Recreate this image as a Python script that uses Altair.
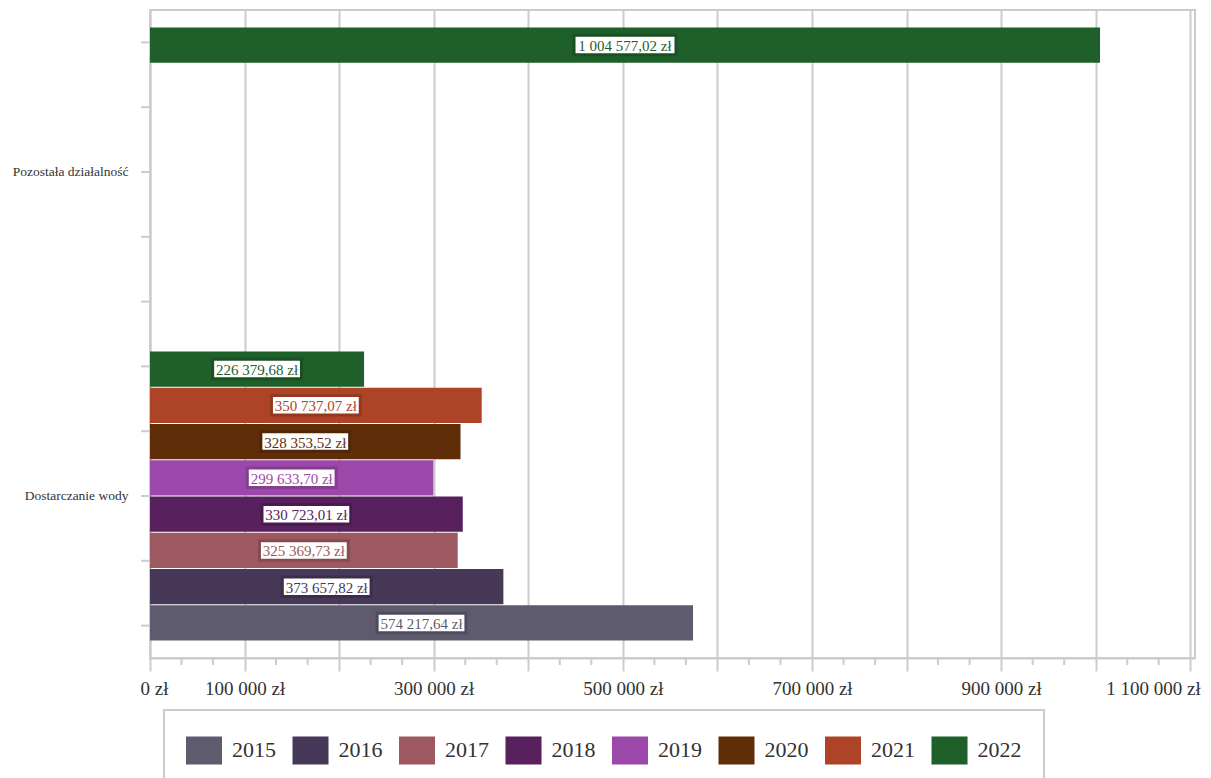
import altair as alt
import pandas as pd

categories = ["Pozostała działalność", "Dostarczanie wody"]
years = ["2015", "2016", "2017", "2018", "2019", "2020", "2021", "2022"]
pozostala = [0, 0, 0, 0, 0, 0, 0, 1004577.02]
dostarczanie = [574217.64, 373657.82, 325369.73, 330723.01, 299633.70, 328353.52, 350737.07, 226379.68]
colors = ["#5e5b6e", "#473858", "#9e5861", "#58215e", "#9c48aa", "#5f2e09", "#ad4327", "#1f5f2a"]
border_colors = ["#4f4c5e", "#3b2e4a", "#874a52", "#4a1b50", "#853d91", "#502607", "#933821", "#1a5023"]
x_ticks = [0, 100000, 200000, 300000, 400000, 500000, 600000, 700000, 800000, 900000, 1000000, 1100000]
x_minor = [v + d for v in x_ticks[:-1] for d in (100000 / 3, 200000 / 3)]
y_tick_pos = [0.5, 1.5, 2.5, 3.5, 4.5, 5.5, 6.5, 7.5, 8.5, 9.5]


def fmt(v):
    return f"{v:,.2f}".replace(",", " ").replace(".", ",") + " zł"


rows = []
for cat, vals in zip(categories, [pozostala, dostarczanie]):
    for yr, v in zip(years, vals):
        rows.append({"kategoria": cat, "rok": yr, "wartosc": v, "etykieta": fmt(v)})
df = pd.DataFrame(rows)

FONT = "Liberation Serif"
x_scale = alt.Scale(domain=[0, 1105000], nice=False, zero=True)
x_axis = alt.Axis(
    title=None,
    values=x_ticks,
    tickSize=13,
    labelFontSize=19,
    labelPadding=8,
    labelFlush=8,
    labelFlushOffset=10,
    labelOverlap=False,
    grid=True,
    labelExpr="(datum.value == 0 || round(datum.value / 100000) % 2 == 1) ? replace(replace(format(datum.value, ',d'), ',', ' '), ',', ' ') + ' zł' : ''",
)
y_sort = categories
y_scale = alt.Scale(paddingInner=0.108, paddingOuter=0.054)
y_axis = alt.Axis(title=None, ticks=False, tickSize=0, labelPadding=22, labelFontSize=13.5, grid=False)
yoff_enc = alt.YOffset("rok:N", sort="descending", scale=alt.Scale(paddingInner=0.03, paddingOuter=0))

base = alt.Chart(df)

bars = base.mark_bar(opacity=1).encode(
    x=alt.X("wartosc:Q", scale=x_scale, axis=x_axis),
    y=alt.Y("kategoria:N", sort=y_sort, scale=y_scale, axis=y_axis),
    yOffset=yoff_enc,
    color=alt.Color(
        "rok:N",
        scale=alt.Scale(domain=years, range=colors),
        legend=alt.Legend(
            title=None,
            orient="none",
            legendX=14,
            legendY=700,
            direction="horizontal",
            symbolType="M-1,-0.78L1,-0.78L1,0.78L-1,0.78Z",
            symbolSize=1296,
            symbolStrokeWidth=0,
            labelFontSize=22,
            labelFont=FONT,
            labelColor="#333333",
            labelOffset=10,
            columnPadding=16.5,
            padding=22,
            strokeColor="#cccccc",
        ),
    ),
)

labelled = base.transform_filter("datum.wartosc > 0").transform_calculate(
    mid="datum.wartosc / 2",
    w="length(datum.etykieta) * 6.6 + 3",
)
labelled = labelled.transform_calculate(
    r="19.5 / datum.w",
    sz="datum.w * datum.w",
).transform_calculate(
    shp="'M-1,-' + datum.r + 'L1,-' + datum.r + 'L1,' + datum.r + 'L-1,' + datum.r + 'Z'"
)

boxes = labelled.mark_point(filled=True, fill="white", fillOpacity=1, opacity=1, strokeWidth=3).encode(
    x=alt.X("mid:Q", scale=x_scale, axis=x_axis),
    y=alt.Y("kategoria:N", sort=y_sort, scale=y_scale, axis=None),
    yOffset=yoff_enc,
    stroke=alt.Stroke("rok:N", scale=alt.Scale(domain=years, range=border_colors), legend=None),
    shape=alt.Shape("shp:N", scale=None),
    size=alt.Size("sz:Q", scale=None),
)

texts = labelled.mark_text(font=FONT, fontSize=15, align="center", baseline="middle", dy=1).encode(
    x=alt.X("mid:Q", scale=x_scale, axis=x_axis),
    y=alt.Y("kategoria:N", sort=y_sort, scale=y_scale, axis=None),
    yOffset=yoff_enc,
    text="etykieta:N",
    color=alt.Color("rok:N", scale=alt.Scale(domain=years, range=colors), legend=None),
)

y_ticks = alt.Chart(pd.DataFrame({"p": y_tick_pos})).mark_rule(color="#cccccc", strokeWidth=2).encode(
    y=alt.Y("p:Q", scale=alt.Scale(domain=[0, 10], nice=False, zero=False), axis=None),
    x=alt.value(-9),
    x2=alt.value(-1),
)

minor = alt.Chart(pd.DataFrame({"m": x_minor})).mark_rule(color="#cccccc", strokeWidth=2).encode(
    x=alt.X("m:Q", scale=x_scale, axis=x_axis),
    y=alt.value(648),
    y2=alt.value(655),
)

chart = (
    alt.layer(bars, boxes, texts, y_ticks, minor)
    .resolve_scale(y="independent")
    .properties(width=1045, height=648, padding={"left": 4, "top": 2, "right": 0, "bottom": 0})
    .configure(font=FONT)
    .configure_axis(
        labelFont=FONT,
        labelColor="#333333",
        gridColor="#cccccc",
        gridWidth=2,
        domainColor="#cccccc",
        domainWidth=2,
        tickColor="#cccccc",
        tickWidth=2,
    )
    .configure_legend(strokeWidth=2, cornerRadius=0)
    .configure_view(stroke="#cccccc", strokeWidth=2)
)

chart.save("out.html", embed_options={"renderer": "svg", "actions": False})
